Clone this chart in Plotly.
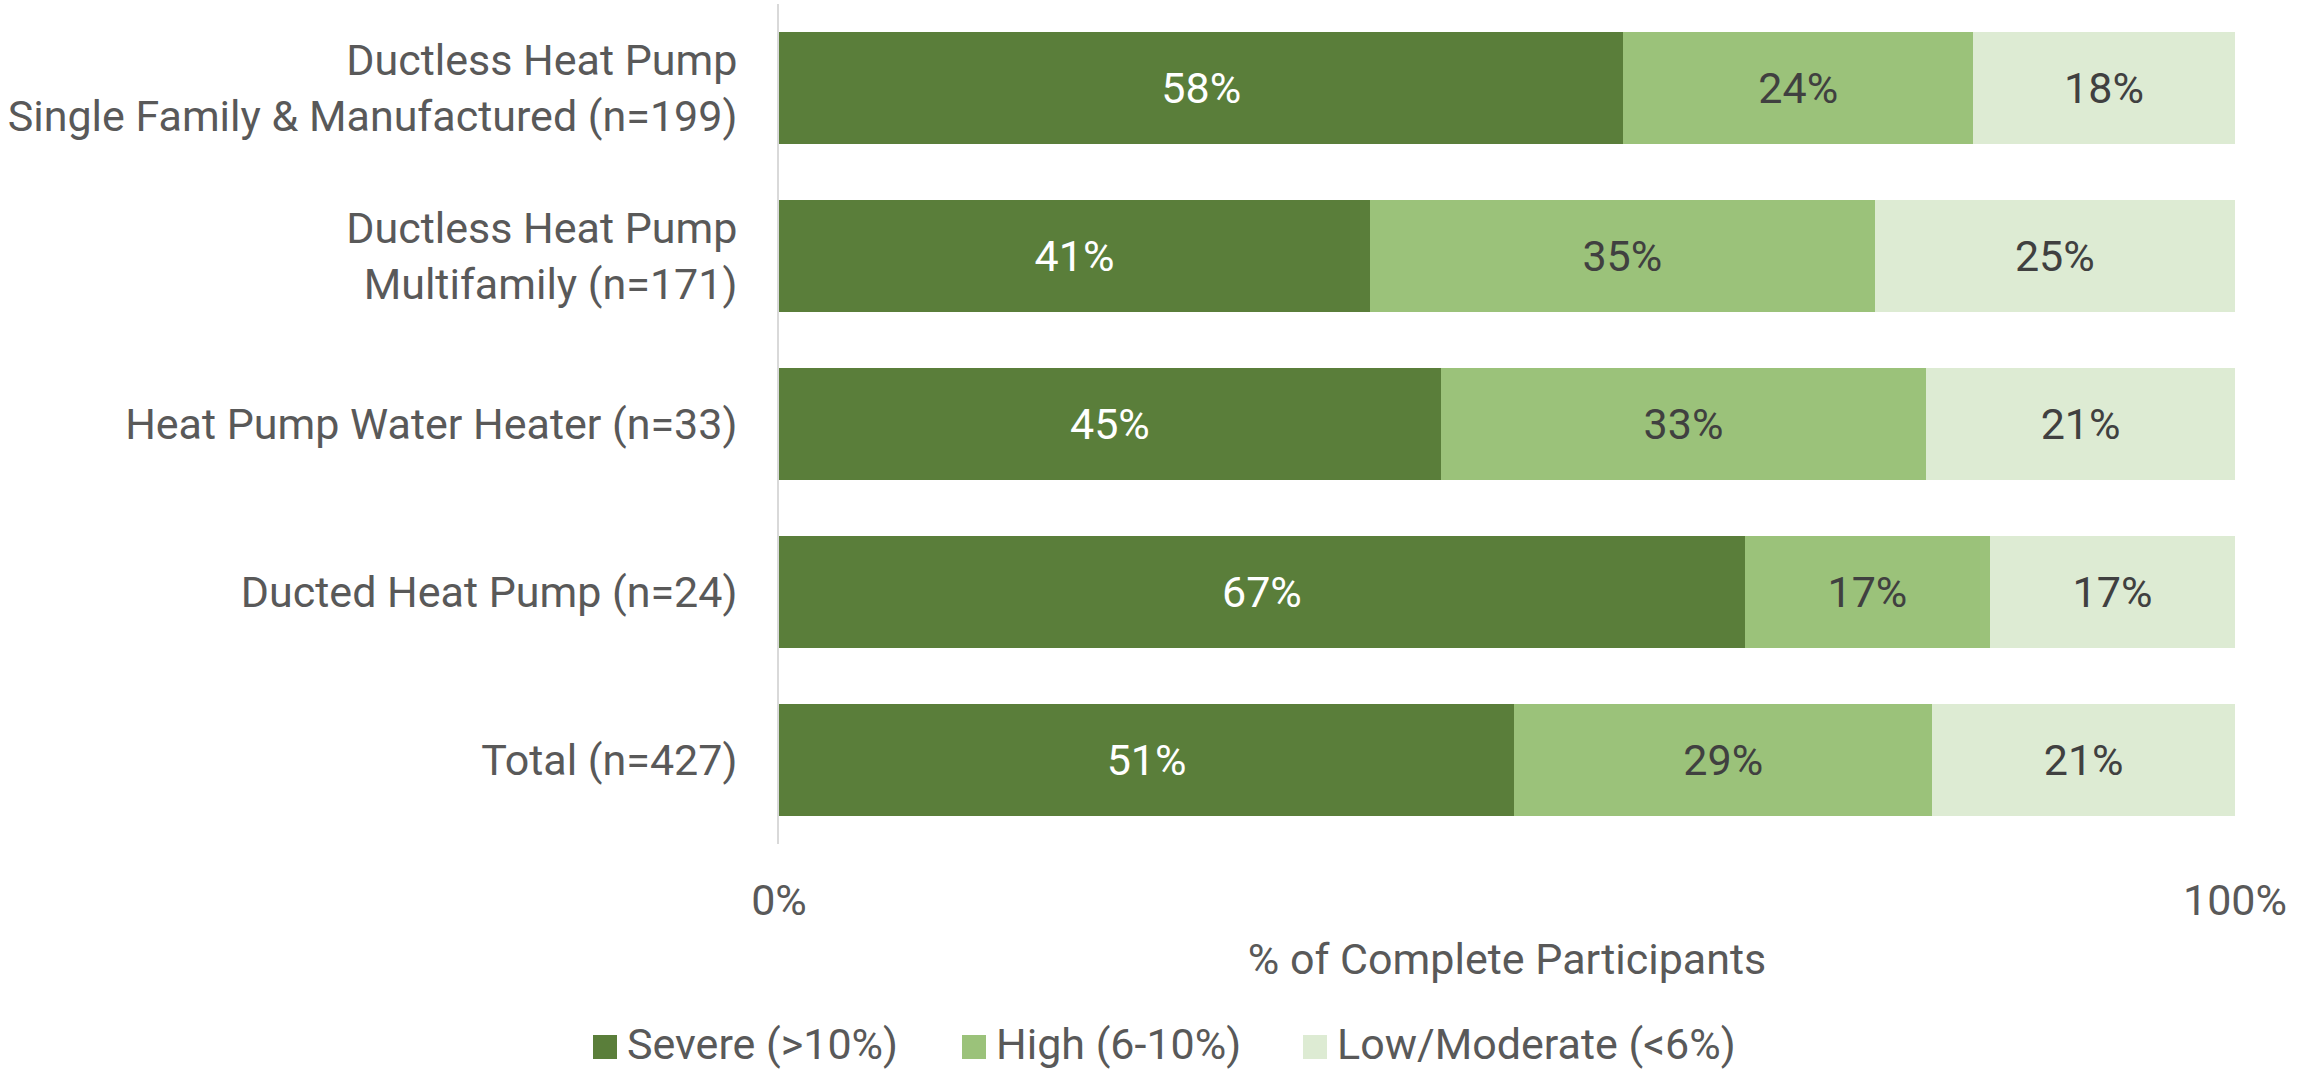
import plotly.graph_objects as go

# Program categories (top to bottom) and the share of complete participants per severity band
categories = [
    "Ductless Heat Pump<br>Single Family & Manufactured (n=199)",
    "Ductless Heat Pump<br>Multifamily (n=171)",
    "Heat Pump Water Heater (n=33)",
    "Ducted Heat Pump (n=24)",
    "Total (n=427)",
]
severe = [58, 41, 45, 67, 51]
high = [24, 35, 33, 17, 29]
low_moderate = [18, 25, 21, 17, 21]

series_names = ["Severe (>10%)", "High (6-10%)", "Low/Moderate (<6%)"]
series_values = [severe, high, low_moderate]
series_colors = ["#5A7E3A", "#9BC27A", "#DDEBD3"]
text_colors = ["#FFFFFF", "#404040", "#404040"]

FONT = "Roboto"
FONT_SIZE = 43
LABEL_COLOR = "#595959"

# Canvas and plot-area geometry (pixels)
W, H = 2313, 1072
M_L, M_R, M_T, M_B = 779, 78, 4, 228
PLOT_W = W - M_L - M_R
PLOT_H = H - M_T - M_B


def px_to_paper_x(px):
    return (px - M_L) / PLOT_W


def px_to_paper_y(py):
    return (H - M_B - py) / PLOT_H


fig = go.Figure()
for name, vals, color, tcolor in zip(series_names, series_values, series_colors, text_colors):
    fig.add_trace(go.Bar(
        name=name,
        y=categories,
        x=vals,
        orientation="h",
        marker=dict(color=color, line=dict(width=0)),
        text=[f"{v}%" for v in vals],
        textposition="inside",
        insidetextanchor="middle",
        textangle=0,
        textfont=dict(family=FONT, size=FONT_SIZE, color=tcolor),
        constraintext="none",
        hoverinfo="skip",
        showlegend=False,
    ))

# Legend row below the axis title: swatch + label for each severity band
legend_swatch_left = [593, 962, 1303]
SWATCH = 24
LEGEND_CY = 1047
shapes = []
annotations = []
for name, color, left in zip(series_names, series_colors, legend_swatch_left):
    shapes.append(dict(
        type="rect", xref="paper", yref="paper",
        x0=px_to_paper_x(left), x1=px_to_paper_x(left + SWATCH),
        y0=px_to_paper_y(LEGEND_CY - SWATCH / 2), y1=px_to_paper_y(LEGEND_CY + SWATCH / 2),
        fillcolor=color, line=dict(width=0), layer="above",
    ))
    annotations.append(dict(
        text=name, xref="paper", yref="paper",
        x=px_to_paper_x(left + SWATCH + 9), y=px_to_paper_y(LEGEND_CY - 3),
        xanchor="left", yanchor="middle", showarrow=False, borderpad=0,
        font=dict(family=FONT, size=FONT_SIZE, color=LABEL_COLOR),
    ))

fig.update_layout(
    barmode="stack",
    barnorm="percent",
    bargap=0.33,
    width=W,
    height=H,
    margin=dict(l=M_L, r=M_R, t=M_T, b=M_B),
    paper_bgcolor="white",
    plot_bgcolor="white",
    font=dict(family=FONT, size=FONT_SIZE, color=LABEL_COLOR),
    uniformtext=dict(mode=False),
    showlegend=False,
    shapes=shapes,
    annotations=annotations,
    xaxis=dict(
        range=[0, 100],
        tickvals=[0, 100],
        ticktext=["0%", "100%"],
        showgrid=False,
        zeroline=False,
        showline=False,
        ticks="",
        ticklabelstandoff=27,
        tickfont=dict(family=FONT, size=FONT_SIZE, color=LABEL_COLOR),
        title=dict(text="% of Complete Participants",
                   font=dict(family=FONT, size=FONT_SIZE, color=LABEL_COLOR),
                   standoff=19),
        fixedrange=True,
    ),
    yaxis=dict(
        autorange="reversed",
        showgrid=False,
        zeroline=False,
        showline=True,
        linecolor="#D9D9D9",
        linewidth=2,
        ticks="",
        ticklabelstandoff=31,
        tickfont=dict(family=FONT, size=FONT_SIZE, color=LABEL_COLOR),
        fixedrange=True,
    ),
)

fig.write_html("out.html")
